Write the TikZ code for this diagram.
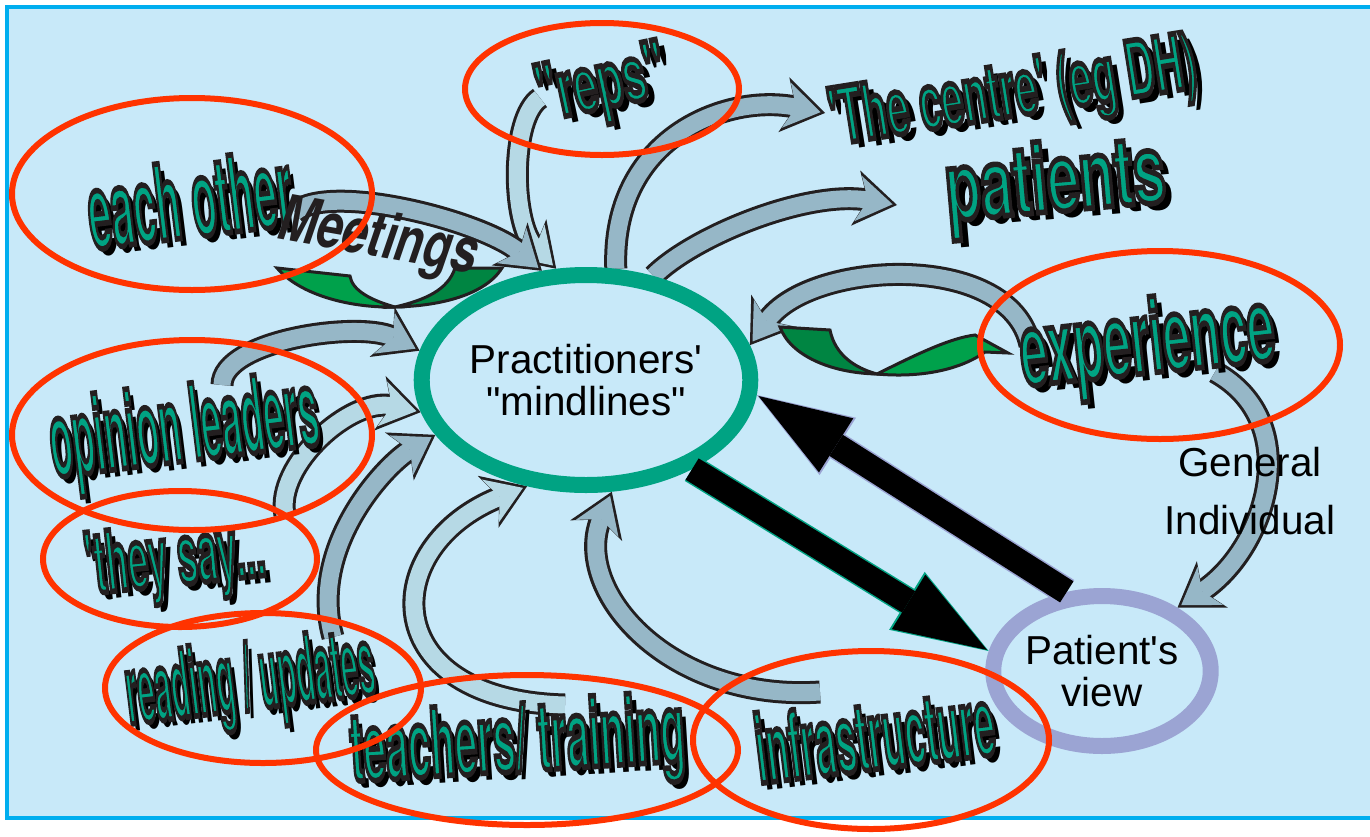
\documentclass[tikz,border=0pt]{standalone}
\usepackage{fontspec}
\usepackage{graphicx}
\setmainfont{Liberation Sans}[Ligatures=TeXOff]
\newfontfamily\tagfont{TeX Gyre Heros}[Ligatures=TeXOff]
\usetikzlibrary{arrows.meta, shapes.geometric, backgrounds}
\definecolor{skyfill}{HTML}{C8E9F9}
\definecolor{skyedge}{HTML}{00AEEF}
\definecolor{ringteal}{HTML}{00A383}
\definecolor{ringlilac}{HTML}{9BA4D3}
\definecolor{tagteal}{HTML}{00A383}
\definecolor{tagline}{HTML}{231F20}
\definecolor{markred}{HTML}{FF3300}
\definecolor{ribbonline}{HTML}{231F20}
\definecolor{ribbondark}{HTML}{96B7C7}
\definecolor{ribbonlight}{HTML}{B6D9E5}
\definecolor{leafdark}{HTML}{008542}
\definecolor{leaflight}{HTML}{00A14B}
\tikzset{
  ring/.style={ellipse, draw=#1, line width=1.6mm, inner sep=0pt, align=center,
    font=\fontsize{11.5}{11.8}\selectfont},
  ribbon edge/.style={draw=ribbonline, line width=2.3mm,
    -{Stealth[length=4.2mm, width=5.6mm, inset=1.2mm, line width=0pt]}},
  ribbon body/.style={draw=#1, line width=1.7mm, shorten >=0.45mm,
    -{Stealth[length=3.5mm, width=4.6mm, inset=1mm, line width=0pt]}},
  bigarrow edge/.style={draw=#1, line width=2.8mm,
    -{Triangle[length=9.6mm, width=6.8mm, line width=0pt]}},
  bigarrow body/.style={draw=black, line width=2.5mm, shorten >=0.2mm,
    -{Triangle[length=9.2mm, width=6.4mm, line width=0pt]}},
  leaf/.style={fill=#1, draw=ribbonline, line width=0.3mm},
  srcword/.style={inner sep=0pt, font=\tagfont\bfseries\fontsize{#1}{#1}\selectfont},
  plain/.style={inner sep=0pt, font=\fontsize{11.5}{12}\selectfont},
  redmark/.style={draw=markred, line width=0.6mm},
}
% teal word, stroked dark, with a black drop shadow
\newcommand{\inkcopies}[1]{%
  \makebox[0pt][l]{\color{black}\hspace{3.5pt}\raisebox{-2.2pt}{#1}}%
  {\color{tagteal}\special{pdf:literal direct 2 Tr 1.6 w 0.137 0.122 0.125 RG}#1\special{pdf:literal direct 0 Tr}}}
\newcommand{\inked}[2]{\resizebox{#1}{\height}{\inkcopies{#2}}}
\newcommand{\ribbon}[2][ribbondark]{%
  \draw[ribbon edge] #2;
  \draw[ribbon body=#1] #2;}

\begin{document}
\begin{tikzpicture}[x=0.1mm, y=-0.1mm]
  \useasboundingbox (0,0) rectangle (1370,836);

  % the two views
  \node[ring=ringteal, minimum width=31.2mm, minimum height=21mm] (mind) at (586,380) {Practitioners'\\"mindlines"};
  \node[ring=ringlilac, minimum width=18mm, minimum height=15mm] (patient) at (1102,671) {Patient's\\view};

  % free ends of the source arrows
  \coordinate (repsEnd) at (540,98);
  \coordinate (centreEnd) at (825,113);
  \coordinate (patientsEnd) at (897,205);
  \coordinate (eachEnd) at (295,212);
  \coordinate (expEnd) at (1030,345);
  \coordinate (expLow) at (1215,372);
  \coordinate (opinionEnd) at (222,385);
  \coordinate (theyEnd) at (285,515);
  \coordinate (readingEnd) at (333,637);
  \coordinate (teachEnd) at (565,705);
  \coordinate (infraEnd) at (820,692);

  \begin{scope}[on background layer]
    \fill[skyfill] (7,7) rectangle (1380,818);
    \draw[skyedge, line width=0.35mm] (7,7) rectangle (1380,818);
    \ribbon[ribbonlight]{(repsEnd) .. controls +(-30,20) and +(-45,-45) .. (mind.105)}
    \ribbon{(mind.75) .. controls +(-5,-130) and +(-100,-20) .. (centreEnd)}
    \ribbon{(mind.57) .. controls +(40,-40) and +(-90,-15) .. (patientsEnd)}
    \ribbon{(eachEnd) .. controls +(35,-30) and +(-60,-50) .. (mind.112)}
    \ribbon{(expEnd) .. controls +(-20,-95) and +(60,-85) .. (mind.12)}
    \ribbon{(expLow) .. controls +(90,50) and +(90,-60) .. (patient.40)}
    \ribbon{(opinionEnd) .. controls +(0,-45) and +(-60,-30) .. (mind.170)}
    \ribbon[ribbonlight]{(theyEnd) .. controls +(-10,-50) and +(-70,-15) .. (mind.191)}
    \ribbon{(readingEnd) .. controls +(-25,-90) and +(-50,30) .. (mind.200)}
    \ribbon[ribbonlight]{(teachEnd) .. controls +(-190,-5) and +(-150,60) .. (mind.241)}
    \ribbon{(infraEnd) .. controls +(-150,10) and +(-40,100) .. (mind.283)}
    % green exchange loops
    \draw[leaf=leaflight] (277,268) .. controls (300,295) and (350,308) .. (395,307)
      .. controls (370,300) and (352,290) .. (350,276) -- cycle;
    \draw[leaf=leafdark] (395,307) .. controls (440,306) and (485,295) .. (502,268)
      -- (455,268) .. controls (448,290) and (425,300) .. cycle;
    \draw[leaf=leafdark] (780,327) .. controls (790,355) and (830,373) .. (877,374)
      .. controls (855,368) and (835,355) .. (830,330) -- cycle;
    \draw[leaf=leaflight] (877,374) .. controls (920,378) and (960,370) .. (985,352)
      -- (1008,353) -- (975,335) .. controls (950,338) and (915,355) .. cycle;
  \end{scope}

  % the two thick arrows
  \draw[bigarrow edge=ringteal] (mind.-40) -- (patient.170);
  \draw[bigarrow body] (mind.-40) -- (patient.170);
  \draw[bigarrow edge=ringlilac] (patient.114) -- (mind.-5);
  \draw[bigarrow body] (patient.114) -- (mind.-5);

  % sources
  \node[srcword=22, rotate=12] (reps) at (603,92) {\inked{13mm}{"reps"}};
  \node[srcword=22, rotate=9] (centre) at (1014,100) {\inked{37mm}{'The centre' (eg DH)}};
  \node[srcword=27, rotate=5] (patients) at (1056,190) {\inked{22mm}{patients}};
  \node[srcword=30, rotate=7] (eachother) at (190,203) {\inked{20.5mm}{each other}};
  \node[srcword=18, rotate=-10, text=tagline] (meetings) at (378,240) {\resizebox{20mm}{\height}{\itshape Meetings}};
  \node[srcword=29, rotate=6] (experience) at (1148,350) {\inked{25.5mm}{experience}};
  \node[srcword=30, rotate=7] (opinion) at (185,437) {\inked{27mm}{opinion leaders}};
  \node[srcword=24, rotate=6] (theysay) at (176,567) {\inked{18mm}{'they say...}};
  \node[srcword=27, rotate=7] (reading) at (251,688) {\inked{25mm}{reading / updates}};
  \node[srcword=27, rotate=3.5] (teachers) at (518,750) {\inked{33.5mm}{teachers/ training}};
  \node[srcword=27, rotate=7] (infra) at (875,738) {\inked{24mm}{infrastructure}};
  \node[plain] (general) at (1250,462) {General};
  \node[plain] (individual) at (1250,520) {Individual};

  % highlighted sources
  \draw[redmark] (602,89) ellipse [x radius=13.7mm, y radius=6.6mm];
  \draw[redmark] (192,194) ellipse [x radius=18mm, y radius=9.6mm];
  \draw[redmark] (1160,345) ellipse [x radius=18mm, y radius=9.4mm];
  \draw[redmark] (192,435) ellipse [x radius=18mm, y radius=9.5mm];
  \draw[redmark] (180,559) ellipse [x radius=13.7mm, y radius=6.8mm];
  \draw[redmark] (263,688) ellipse [x radius=15.8mm, y radius=7.5mm];
  \draw[redmark] (527,750) ellipse [x radius=21.1mm, y radius=7.5mm];
  \draw[redmark] (871,740) ellipse [x radius=17.8mm, y radius=8.9mm];
\end{tikzpicture}
\end{document}
